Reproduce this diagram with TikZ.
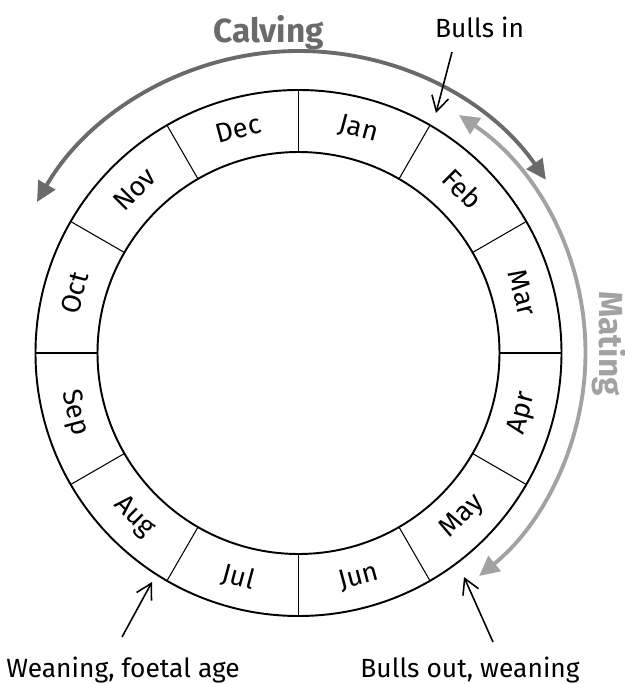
\documentclass[tikz,border=0pt]{standalone}
\usepackage{fontspec}
\setmainfont{Fira Sans}
\usepackage{tikz}
\usetikzlibrary{calc, positioning, arrows.meta}

\definecolor{calvgrey}{HTML}{6A6A6A}
\definecolor{matgrey}{HTML}{A2A2A2}

\tikzset{
  ring/.style={line width=1.1pt},
  divider/.style={line width=0.6pt},
  month/.style={font=\fontsize{15.5}{18}\selectfont, inner sep=0pt},
  season/.style={line width=2.2pt, {Triangle[length=4mm,width=3.8mm]}-{Triangle[length=4mm,width=3.8mm]}},
  pointer/.style={line width=0.9pt, -{Straight Barb[length=3mm,width=3.4mm]}},
  note/.style={font=\fontsize{15}{18}\selectfont, inner sep=0pt, anchor=base}
}

\begin{document}
\begin{tikzpicture}
  \useasboundingbox (-5.97,-6.62) rectangle (6.53,7.06);
  % centre of the year wheel
  \coordinate (C) at (0,0);
  % the two rings
  \draw[ring] (C) circle[radius=5.26];
  \draw[ring] (C) circle[radius=4.02];
  % month boundaries
  \foreach \a in {0,30,...,330}
    \draw[divider] (\a:4.02) -- (\a:5.26);
  % month names
  \foreach \m [count=\i] in {Jan,Feb,Mar,Apr,May,Jun,Jul,Aug,Sep,Oct,Nov,Dec} {
    \pgfmathsetmacro\ang{mod(465-30*\i,360)}
    \pgfmathsetmacro\rot{\ang<180 ? \ang-90 : \ang+90}
    \node[month, rotate=\rot] (\m) at (\ang:4.64) {\m};
  }

  % calving arc
  \draw[season, calvgrey] (35:6.04) arc[start angle=35, end angle=150, radius=6.04];
  \node[note, calvgrey, font=\fontsize{19}{22}\selectfont\bfseries] (calving) at (-0.60,6.20) {Calving};
  % mating arc
  \draw[season, matgrey] (56:5.74) arc[start angle=56, end angle=-51, radius=5.74];
  \node[matgrey, font=\fontsize{19}{22}\selectfont\bfseries, rotate=-90, inner sep=0pt] (mating) at (6.21,0.19) {Mating};

  % events
  \node[note] (bullsin) at (3.62,6.30) {Bulls in};
  \coordinate (bullsin-from) at (3.07,6.02);
  \coordinate (bullsin-to) at (2.75,4.80);
  \draw[pointer] (bullsin-from) -- (bullsin-to);

  \node[note] (weaning) at (-3.51,-6.48) {Weaning, foetal age};
  \coordinate (weaning-from) at (-3.53,-5.68);
  \coordinate (weaning-to) at (-2.93,-4.58);
  \draw[pointer] (weaning-from) -- (weaning-to);

  \node[note] (bullsout) at (3.43,-6.48) {Bulls out, weaning};
  \coordinate (bullsout-from) at (3.89,-5.78);
  \coordinate (bullsout-to) at (3.31,-4.48);
  \draw[pointer] (bullsout-from) -- (bullsout-to);
\end{tikzpicture}
\end{document}
